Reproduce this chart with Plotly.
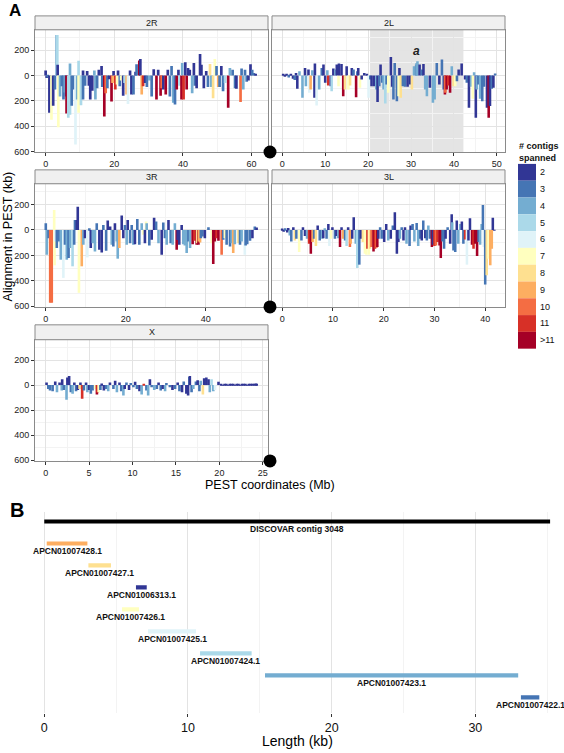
import plotly.graph_objects as go

W, H = 564, 753
OFF = 0
FW, FH = W - OFF, H - OFF
FONT = "Liberation Sans, Arial, Helvetica, sans-serif"
PALETTE = ["#313695", "#4575B4", "#74ADD1", "#ABD9E9", "#E0F3F8", "#FFFFBF",
           "#FEE090", "#FDAE61", "#F46D43", "#D73027", "#A50026"]
CAT_LABELS = ["2", "3", "4", "5", "6", "7", "8", "9", "10", "11", ">11"]

# ---------------- Panel A data: position (Mb), alignment (kb), category index ----------------
R2_POS = [0.0, 0.3, 0.6, 1.1, 1.7, 2.2, 2.7, 3.2, 3.4, 3.5,
          3.7, 4.2, 4.7, 5.2, 5.6, 6.0, 6.1, 6.6, 7.1, 7.1,
          7.6, 8.3, 8.7, 9.2, 9.6, 9.6, 10.3, 10.9, 10.9, 11.5,
          12.1, 12.6, 13.0, 13.6, 14.2, 14.5, 15.0, 15.5, 16.3, 16.5,
          17.1, 17.5, 18.0, 18.5, 19.2, 19.5, 19.8, 20.3, 20.8, 21.1,
          21.6, 22.0, 22.6, 23.0, 23.6, 24.0, 24.6, 25.0, 25.6, 26.2,
          26.5, 27.3, 27.6, 28.0, 28.4, 29.0, 29.5, 30.2, 30.9, 31.5,
          32.3, 32.8, 33.5, 33.8, 34.3, 35.0, 35.6, 36.2, 36.7, 37.2,
          37.7, 38.2, 38.7, 39.0, 39.6, 39.8, 40.2, 40.7, 41.1, 41.5,
          42.0, 42.7, 43.2, 43.5, 44.0, 45.0, 45.4, 46.1, 46.8, 47.3,
          47.9, 48.3, 48.8, 49.3, 49.8, 50.3, 50.7, 51.2, 51.7, 52.3,
          53.2, 53.7, 54.5, 55.2, 55.6, 56.8, 57.1, 57.6, 58.1, 58.6,
          59.1, 59.7, 60.2, 60.7, 61.2]
R2_KB = [40, -20, -15, -295, -350, -240, -110, 320, 320, 85,
         -410, -165, -85, -190, -135, -165, -300, -335, 95, -310,
         -240, -110, -545, -190, 118, -295, -235, -190, 40, -80,
         35, -80, -190, -120, 40, -190, -100, 45, 75, -90,
         -325, -140, -100, -30, -205, -60, 35, -110, -70, 40,
         -85, -40, -160, -60, -150, -225, 40, -150, -150, 30,
         90, 120, 130, -150, -85, -60, -90, -40, -165, 50,
         -190, 45, -160, -100, -110, -150, 45, -165, 75, -215,
         -230, -110, 45, -80, -190, 100, -190, 105, -110, 60,
         45, -140, 100, -80, -100, 170, 85, -100, 35, -90,
         92, -90, -180, 130, 75, -90, -90, 75, -125, -60,
         -255, 60, 45, -100, -105, -210, 55, -110, 45, -50,
         -40, 90, 45, 20, 10]
R2_CAT = [0, 0, 1, 0, 5, 0, 1, 2, 3, 0,
          5, 2, 1, 1, 2, 0, 10, 3, 2, 3,
          1, 1, 4, 2, 3, 5, 3, 1, 0, 1,
          0, 0, 0, 0, 2, 2, 1, 0, 0, 1,
          10, 8, 1, 0, 10, 7, 0, 9, 5, 0,
          1, 5, 0, 3, 7, 4, 0, 0, 1, 0,
          1, 10, 0, 7, 9, 0, 1, 2, 1, 0,
          10, 0, 10, 8, 0, 10, 0, 1, 1, 2,
          1, 10, 0, 3, 10, 2, 9, 0, 10, 0,
          0, 2, 0, 1, 0, 0, 0, 0, 0, 1,
          6, 2, 6, 5, 1, 7, 1, 0, 1, 3,
          10, 2, 1, 1, 0, 8, 1, 2, 1, 1,
          0, 0, 1, 1, 0]

L2_POS = [0.2, 0.6, 1.0, 1.5, 2.0, 2.5, 2.9, 3.2, 3.5, 4.0,
          4.7, 5.3, 5.5, 6.1, 6.3, 6.6, 7.0, 7.5, 7.6, 8.0,
          8.6, 9.2, 9.6, 10.0, 10.5, 10.7, 11.3, 11.5, 11.9, 12.4,
          12.7, 13.1, 13.2, 13.8, 14.2, 14.6, 15.0, 15.4, 15.8, 16.2,
          16.6, 17.2, 17.5, 17.7, 18.1, 18.5, 19.1, 19.7, 20.1, 20.5,
          20.8, 21.4, 21.9, 22.2, 22.6, 22.9, 23.3, 23.6, 24.0, 24.3,
          24.7, 25.3, 25.6, 25.9, 26.2, 26.7, 27.1, 27.3, 27.6, 28.1,
          28.6, 29.2, 29.8, 30.2, 30.7, 31.2, 31.3, 31.5, 32.0, 32.5,
          32.9, 33.3, 33.7, 34.4, 35.1, 35.5, 36.0, 36.6, 37.2, 37.6,
          37.9, 38.0, 38.3, 38.7, 39.1, 39.5, 39.9, 40.3, 40.7, 41.1,
          41.8, 42.6, 43.0, 43.5, 44.0, 44.4, 44.7, 45.1, 45.3, 45.7,
          46.1, 46.6, 47.0, 47.7, 48.1, 48.4, 48.8, 49.2, 49.6]
L2_KB = [12, -10, 15, -15, 10, -25, -35, 20, -105, 34,
         -176, 60, -84, 47, -137, -110, 42, -176, 95, -237,
         -110, 60, 87, -58, 42, -79, -84, -124, 55, 47,
         87, -84, 95, 92, -163, -110, 74, -110, -79, 60,
         47, -171, 34, 60, -97, -32, 21, 15, -176, -32,
         -84, -84, -110, -210, -84, 87, -58, -110, -221, -71,
         -137, 147, -89, -189, 100, -203, -163, 60, -176, -84,
         -89, -89, -71, -110, 74, 87, 100, 113, 87, 47,
         92, -110, -163, -97, -215, -189, 100, -71, 126, -110,
         -150, -137, -110, -79, -137, 74, -84, -84, -45, 47,
         95, -32, -58, -255, -89, -184, 26, -334, -110, -71,
         -184, -203, -89, -255, -334, -242, -105, -97, 16]
L2_CAT = [0, 0, 0, 1, 0, 0, 1, 0, 0, 2,
          2, 0, 2, 0, 4, 7, 2, 0, 0, 4,
          2, 1, 0, 0, 2, 9, 0, 3, 0, 2,
          0, 5, 0, 0, 10, 6, 0, 5, 6, 0,
          1, 10, 1, 0, 5, 0, 0, 0, 4, 1,
          0, 0, 2, 0, 1, 0, 1, 2, 3, 1,
          5, 0, 0, 1, 1, 1, 5, 0, 6, 1,
          1, 0, 0, 6, 2, 1, 2, 2, 0, 1,
          0, 2, 2, 0, 2, 2, 1, 0, 1, 1,
          10, 8, 10, 9, 10, 2, 6, 5, 1, 0,
          0, 0, 1, 0, 2, 5, 2, 0, 2, 1,
          2, 1, 1, 0, 10, 0, 1, 0, 1]

R3_POS = [0.0, 0.25, 0.7, 1.1, 1.5, 2.1, 2.2, 2.35, 2.75, 3.3,
          3.75, 4.4, 4.8, 5.25, 5.7, 6.1, 6.7, 7.1, 7.3, 7.75,
          8.0, 8.3, 9.0, 9.4, 9.8, 10.4, 10.9, 11.25, 11.75, 12.3,
          12.75, 13.4, 14.0, 14.4, 15.1, 15.5, 16.1, 16.5, 16.9, 17.3,
          17.75, 18.0, 18.4, 19.0, 19.4, 19.8, 20.25, 20.5, 21.1, 21.5,
          21.9, 22.3, 22.9, 23.4, 24.0, 24.4, 24.8, 25.1, 25.25, 25.9,
          26.5, 27.1, 27.6, 28.2, 29.0, 29.4, 29.8, 30.25, 30.7, 31.25,
          31.75, 32.3, 32.75, 33.0, 33.4, 34.0, 34.4, 34.8, 35.25, 35.7,
          36.1, 36.75, 37.2, 37.75, 37.9, 38.2, 38.3, 38.6, 38.8, 39.2,
          39.8, 40.7, 41.5, 41.9, 42.3, 42.75, 43.2, 44.0, 44.4, 44.8,
          45.25, 46.1, 46.5, 46.9, 47.3, 48.2, 48.6, 49.0, 49.8, 50.0,
          50.4, 51.1, 51.7, 52.3, 52.75]
R3_KB = [52, -195, -65, -572, -572, 156, -278, -91, -143, -91,
         -234, -377, -117, -234, -221, -143, -286, -117, 78, 78,
         182, -494, -286, -117, -65, -216, 13, -143, -104, -169,
         52, -156, -177, 39, -164, 73, 26, -117, -130, 52,
         -91, -226, -143, 112, -65, 39, -117, 78, -104, 39,
         -117, -112, 86, -117, 52, -39, -104, 65, 52, -122,
         -78, 96, 65, -104, -195, 57, -65, -117, 78, -104,
         -117, 52, -156, -80, -117, 39, -112, -122, -182, -91,
         -143, -112, -86, -117, -104, -117, -91, -99, -65, -52,
         -65, 21, -104, -268, -91, -65, -86, -195, -78, -65,
         -117, -130, -104, -182, -112, -104, -117, -91, -195, -122,
         -112, -86, -65, 26, 18]
R3_CAT = [1, 2, 1, 8, 8, 5, 5, 4, 1, 1,
          2, 4, 1, 2, 1, 2, 3, 1, 1, 0,
          0, 5, 7, 2, 0, 4, 1, 0, 2, 2,
          1, 0, 0, 1, 1, 0, 0, 2, 1, 0,
          2, 2, 7, 0, 0, 1, 2, 0, 1, 1,
          2, 0, 1, 1, 2, 5, 0, 5, 2, 1,
          0, 0, 1, 2, 0, 1, 1, 2, 0, 1,
          2, 2, 10, 0, 0, 0, 2, 2, 2, 1,
          2, 10, 9, 10, 6, 10, 7, 7, 1, 1,
          0, 1, 5, 10, 10, 9, 10, 8, 1, 5,
          1, 1, 2, 7, 2, 6, 1, 2, 4, 1,
          1, 1, 0, 1, 0]

L3_POS = [0.0, 0.3, 0.6, 1.0, 1.2, 1.5, 1.8, 2.2, 2.5, 2.8,
          3.35, 3.8, 4.1, 4.5, 4.9, 5.3, 5.65, 6.0, 6.3, 6.65,
          7.0, 7.4, 7.9, 8.1, 8.4, 8.75, 9.1, 9.3, 9.6, 9.9,
          10.4, 10.7, 11.05, 11.4, 11.7, 12.0, 12.4, 12.7, 13.0, 13.35,
          13.5, 13.8, 14.1, 14.5, 14.8, 15.2, 15.5, 15.9, 16.3, 16.6,
          16.8, 17.1, 17.3, 17.6, 18.0, 18.3, 18.6, 18.75, 18.95, 19.3,
          19.6, 20.1, 20.5, 20.9, 21.4, 21.8, 22.2, 22.6, 22.9, 23.2,
          23.55, 23.9, 24.2, 24.5, 25.1, 25.3, 25.7, 26.05, 26.5, 26.8,
          27.2, 27.5, 27.8, 28.2, 28.5, 28.8, 29.1, 29.5, 29.7, 30.0,
          30.3, 30.6, 31.0, 31.25, 31.6, 31.9, 32.2, 32.6, 33.1, 33.4,
          33.5, 33.75, 34.1, 34.4, 34.7, 35.1, 35.4, 35.7, 36.05, 36.4,
          36.7, 37.0, 37.4, 37.7, 38.0, 38.4, 38.7, 39.0, 39.3, 39.55,
          39.7, 40.0, 40.3, 40.65, 41.0, 41.3, 41.5, 41.8]
L3_KB = [10, -10, 12, -20, 15, -44, -91, 21, -83, -70,
         -174, -83, 21, -49, -70, -109, -187, -96, -70, -127,
         34, -83, -70, -65, 13, -70, 47, -127, -70, 21,
         -70, -49, -65, -135, 21, -70, -83, -127, 21, -135,
         -109, -70, 99, -109, -299, -273, -70, -96, -187, -195,
         -148, -195, -148, -135, -169, -148, -140, -135, -70, 21,
         -70, -96, 47, -83, -70, 34, 138, -187, -96, -70,
         21, -83, 21, -109, -127, 34, 47, -91, 55, -127,
         -70, -83, 73, -65, -83, 34, -70, -135, -117, -127,
         -122, -96, -122, -221, -91, -148, -70, 21, -109, 122,
         60, -161, -174, 73, -109, 47, 65, -109, -75, -273,
         -83, 91, -117, -148, -109, -205, -96, -117, 47, 195,
         -135, -429, -356, -226, -278, -148, 96, -5]
L3_CAT = [0, 0, 1, 0, 0, 2, 1, 0, 6, 1,
          5, 1, 0, 0, 2, 9, 10, 7, 1, 6,
          0, 1, 2, 0, 2, 1, 0, 4, 5, 0,
          1, 0, 2, 10, 0, 7, 1, 3, 0, 8,
          7, 0, 0, 2, 3, 1, 0, 6, 5, 5,
          9, 5, 6, 8, 10, 9, 8, 10, 0, 1,
          1, 0, 0, 2, 0, 1, 0, 0, 0, 2,
          1, 0, 0, 2, 1, 0, 1, 2, 1, 2,
          1, 0, 1, 0, 1, 2, 1, 10, 0, 9,
          8, 9, 10, 10, 1, 1, 0, 1, 0, 0,
          2, 1, 1, 0, 2, 2, 0, 1, 9, 4,
          0, 0, 10, 9, 10, 10, 1, 2, 2, 1,
          4, 1, 6, 5, 7, 7, 0, 0]

X_POS = [0.1, 0.3, 0.5, 0.8, 1.1, 1.3, 1.6, 1.85, 1.9, 2.1,
         2.4, 2.5, 2.7, 2.9, 3.1, 3.3, 3.5, 3.7, 3.9, 4.0,
         4.2, 4.4, 4.65, 4.8, 5.0, 5.2, 5.4, 5.7, 5.9, 5.95,
         6.1, 6.3, 6.45, 6.7, 6.95, 7.2, 7.4, 7.8, 8.0, 8.2,
         8.5, 8.7, 8.95, 9.1, 9.3, 9.6, 9.8, 10.1, 10.3, 10.5,
         10.8, 11.05, 11.3, 11.6, 11.8, 12.0, 12.2, 12.5, 12.8, 13.0,
         13.25, 13.5, 13.75, 13.9, 14.3, 14.6, 14.9, 15.2, 15.4, 15.7,
         15.9, 16.2, 16.4, 16.55, 16.6, 16.8, 17.0, 17.3, 17.5, 17.7,
         17.85, 18.1, 18.25, 18.5, 18.75, 18.9, 19.1, 19.3, 19.5, 19.9,
         20.2, 20.4, 20.6, 20.8, 21.0, 21.2, 21.4, 21.6, 21.8, 22.0,
         22.2, 22.4, 22.6, 22.8, 23.0, 23.2, 23.4, 23.6, 23.8, 24.0,
         24.2, 24.3]
X_KB = [21, -31, -44, -49, 29, -57, 21, -44, 47, -39,
        -117, 60, 73, -57, -70, 21, -49, -39, -31, 21,
        -109, -44, 21, -57, -39, -70, -44, -31, -75, -60,
        -57, -39, 13, -44, -31, -49, 21, -31, 34, -57,
        21, -49, -83, -31, 21, -39, 16, -18, 26, -31,
        -49, -75, 8, -44, -83, 47, -18, -39, -31, 21,
        -44, -31, -49, 16, -18, -39, -31, 21, -49, -57,
        29, -70, -83, 65, 73, -57, -31, 29, 39, -49,
        34, -75, 55, 60, 47, -57, 47, -49, -39, 26,
        8, -4, 6, 5, -5, 7, 4, 6, -4, 5,
        7, -5, 6, 4, 8, -4, 6, 5, 9, 10,
        12, 8]
X_CAT = [0, 1, 1, 1, 0, 2, 0, 2, 0, 1,
         2, 0, 0, 1, 2, 0, 1, 0, 6, 0,
         9, 1, 0, 2, 0, 1, 1, 5, 10, 9,
         5, 1, 0, 0, 1, 2, 0, 1, 0, 2,
         0, 1, 2, 0, 1, 0, 1, 1, 0, 1,
         0, 2, 9, 1, 2, 0, 1, 2, 1, 0,
         1, 0, 2, 1, 1, 0, 1, 0, 1, 0,
         1, 0, 0, 1, 0, 1, 2, 1, 0, 1,
         2, 6, 0, 0, 0, 2, 3, 2, 4, 0,
         0, 0, 0, 0, 0, 0, 0, 0, 0, 0,
         0, 0, 0, 0, 0, 0, 0, 0, 0, 0,
         0, 0]

Y_TICKS = [200, 0, -200, -400, -600]
Y_TICKTEXT = ["200", "0", "200", "400", "600"]
Y_MINOR = [300, 100, -100, -300, -500]

# ---------------- Panel B data ----------------
B_NAMES = ["DISCOVAR contig 3048", "APCN01007428.1", "APCN01007427.1", "APCN01006313.1",
           "APCN01007426.1", "APCN01007425.1", "APCN01007424.1", "APCN01007423.1",
           "APCN01007422.1"]
B_START = [0.0, 0.17, 3.07, 6.38, 5.41, 7.22, 10.84, 15.36, 33.17]
B_END = [35.2, 3.0, 4.64, 7.13, 6.59, 10.56, 14.43, 32.98, 34.45]
B_CAT = [-1, 7, 6, 0, 5, 4, 3, 2, 1]   # -1 = the DISCOVAR contig itself (black)
B_TICKS = [0, 10, 20, 30]
B_MINOR = [5, 15, 25, 35]


def fx(p):
    return (p - OFF) / FW


def fy(p):
    return 1 - (p - OFF) / FH


panels = [
    dict(name="2R", pos=R2_POS, kb=R2_KB, cat=R2_CAT, x=(35, 268), y=(30, 153), strip=16,
         xr=(-3.1, 64.8), ticks=[0, 20, 40, 60], minor=[10, 30, 50], left=True, bw=0.78),
    dict(name="2L", pos=L2_POS, kb=L2_KB, cat=L2_CAT, x=(272, 505), y=(30, 153), strip=16,
         xr=(-2.4, 51.9), ticks=[0, 10, 20, 30, 40, 50], minor=[5, 15, 25, 35, 45], left=False, bw=0.6),
    dict(name="3R", pos=R3_POS, kb=R3_KB, cat=R3_CAT, x=(35, 268), y=(185, 309), strip=171,
         xr=(-2.7, 55.6), ticks=[0, 20, 40], minor=[10, 30, 50], left=True, bw=0.65),
    dict(name="3L", pos=L3_POS, kb=L3_KB, cat=L3_CAT, x=(272, 505), y=(185, 309), strip=171,
         xr=(-2.0, 43.9), ticks=[0, 10, 20, 30, 40], minor=[5, 15, 25, 35], left=False, bw=0.5),
    dict(name="X", pos=X_POS, kb=X_KB, cat=X_CAT, x=(35, 268), y=(342, 464), strip=327,
         xr=(-1.23, 25.6), ticks=[0, 5, 10, 15, 20, 25], minor=[2.5, 7.5, 12.5, 17.5, 22.5],
         left=True, bw=0.3),
]

fig = go.Figure()
shapes = []
annotations = []
GRID = "#E3E3E3"
MINOR_GRID = "#F3F3F3"
BORDER = "#8A8A8A"
TICKFONT = dict(family=FONT, size=9, color="#222")

for i, p in enumerate(panels, start=1):
    ax = "" if i == 1 else str(i)
    fig.add_trace(go.Bar(
        x=p["pos"], y=p["kb"], width=p["bw"],
        marker=dict(color=[PALETTE[c] for c in p["cat"]], line=dict(width=0)),
        xaxis="x" + ax, yaxis="y" + ax, showlegend=False, hoverinfo="skip"))
    if p["left"]:
        # black corner dot at the panel's lower-right corner, drawn on top
        shapes.append(dict(type="circle", xref="paper", yref="paper",
                           xsizemode="pixel", ysizemode="pixel",
                           xanchor=fx(p["x"][1] + 2), yanchor=fy(p["y"][1]),
                           x0=-6.5, x1=6.5, y0=-6.5, y1=6.5,
                           fillcolor="black", line=dict(width=0), layer="above"))
    fig.update_layout(**{
        "xaxis" + ax: dict(
            domain=[fx(p["x"][0]), fx(p["x"][1])], range=list(p["xr"]),
            anchor="y" + ax, tickvals=p["ticks"], ticks="outside", ticklen=3,
            tickcolor="#333", tickfont=TICKFONT, showgrid=True, gridcolor=GRID,
            gridwidth=1, zeroline=False, showline=True, linecolor=BORDER,
            linewidth=1, mirror=True,
            minor=dict(tickvals=p["minor"], showgrid=True, gridcolor=MINOR_GRID, ticks="")),
        "yaxis" + ax: dict(
            domain=[fy(p["y"][1]), fy(p["y"][0])], range=[-605, 362],
            anchor="x" + ax, tickvals=Y_TICKS, ticktext=Y_TICKTEXT,
            showticklabels=p["left"], ticks="outside" if p["left"] else "",
            ticklen=3, tickcolor="#333", tickfont=TICKFONT, showgrid=True,
            gridcolor=GRID, zeroline=False, showline=True, linecolor=BORDER,
            linewidth=1, mirror=True,
            minor=dict(tickvals=Y_MINOR, showgrid=True, gridcolor=MINOR_GRID, ticks="")),
    })
    # strip
    shapes.append(dict(type="rect", xref="paper", yref="paper",
                       x0=fx(p["x"][0]), x1=fx(p["x"][1]),
                       y0=fy(p["y"][0]), y1=fy(p["strip"]),
                       fillcolor="#F0F0F0", line=dict(color=BORDER, width=1)))
    annotations.append(dict(xref="paper", yref="paper",
                            x=fx((p["x"][0] + p["x"][1]) / 2),
                            y=fy((p["y"][0] + p["strip"]) / 2),
                            text=p["name"], showarrow=False,
                            font=dict(family=FONT, size=9, color="#1a1a1a"),
                            xanchor="center", yanchor="middle"))

# shaded region "a" in 2L
shapes.append(dict(type="rect", xref="x2", yref="y2 domain", x0=20.45, x1=42.2,
                   y0=0, y1=1, fillcolor="rgba(185,185,185,0.38)", line=dict(width=0),
                   layer="below"))
annotations.append(dict(xref="x2", yref="y2", x=31.3, y=196, text="<b><i>a</i></b>",
                        showarrow=False, font=dict(family=FONT, size=12, color="#222")))

# ---------------- Panel B ----------------
b_rows = [-i for i in range(len(B_NAMES))]
b_colors = ["black" if c < 0 else PALETTE[c] for c in B_CAT]
fig.add_trace(go.Bar(
    y=b_rows, x=[e - s for s, e in zip(B_START, B_END)], base=B_START,
    orientation="h", width=0.19, marker=dict(color=b_colors, line=dict(width=0)),
    xaxis="x6", yaxis="y6", showlegend=False, hoverinfo="skip"))
for name, s, e, r in zip(B_NAMES, B_START, B_END, b_rows):
    annotations.append(dict(xref="x6", yref="y6", x=(s + e) / 2, y=r, yshift=-8,
                            text="<b>" + name + "</b>", showarrow=False,
                            font=dict(family=FONT, size=8.5, color="#111"),
                            xanchor="center", yanchor="middle"))
fig.update_layout(
    xaxis6=dict(domain=[fx(20), fx(560)], range=[-1.69, 35.89], anchor="y6",
                tickvals=B_TICKS, ticks="outside", ticklen=3, tickcolor="#333",
                tickfont=dict(family=FONT, size=12.5, color="#111"),
                showgrid=True, gridcolor=GRID, zeroline=False, showline=False,
                minor=dict(tickvals=B_MINOR, showgrid=True, gridcolor=MINOR_GRID, ticks="")),
    yaxis6=dict(domain=[fy(718), fy(515)], range=[-8.72, 0.45], anchor="x6",
                showgrid=False, zeroline=False, showticklabels=False, ticks="",
                showline=False),
)

# ---------------- Legend (drawn manually) ----------------
LEG_X0, LEG_X1, LEG_TOP, LEG_BOT = 518, 536, 165, 351
step = (LEG_BOT - LEG_TOP) / len(CAT_LABELS)
for k, lab in enumerate(CAT_LABELS):
    t = LEG_TOP + k * step
    shapes.append(dict(type="rect", xref="paper", yref="paper",
                       x0=fx(LEG_X0), x1=fx(LEG_X1), y0=fy(t + step), y1=fy(t),
                       fillcolor=PALETTE[k], line=dict(width=0)))
    annotations.append(dict(xref="paper", yref="paper", x=fx(LEG_X1 + 2),
                            y=fy(t + step / 2), text=lab, showarrow=False,
                            font=dict(family=FONT, size=9, color="#111"),
                            xanchor="left", yanchor="middle"))
annotations.append(dict(xref="paper", yref="paper", x=fx(517), y=fy(153),
                        text="<b># contigs<br>spanned</b>", showarrow=False, align="left",
                        font=dict(family=FONT, size=9, color="#111"),
                        xanchor="left", yanchor="middle"))

# ---------------- titles ----------------
annotations += [
    dict(xref="paper", yref="paper", x=fx(7), y=fy(11), text="<b>A</b>", showarrow=False,
         font=dict(family=FONT, size=17, color="black"), xanchor="left", yanchor="middle"),
    dict(xref="paper", yref="paper", x=fx(8), y=fy(513), text="<b>B</b>", showarrow=False,
         font=dict(family=FONT, size=20, color="black"), xanchor="left", yanchor="middle"),
    dict(xref="paper", yref="paper", x=fx(8), y=fy(238), text="Alignment in PEST (kb)",
         showarrow=False, textangle=-90, font=dict(family=FONT, size=12.5, color="black"),
         xanchor="center", yanchor="middle"),
    dict(xref="paper", yref="paper", x=fx(270), y=fy(488), text="PEST coordinates (Mb)",
         showarrow=False, font=dict(family=FONT, size=12.5, color="black"),
         xanchor="center", yanchor="middle"),
    dict(xref="paper", yref="paper", x=fx(297), y=fy(746), text="Length (kb)",
         showarrow=False, font=dict(family=FONT, size=14, color="black"),
         xanchor="center", yanchor="middle"),
]

fig.update_layout(
    width=FW, height=FH, margin=dict(l=0, r=0, t=0, b=0),
    paper_bgcolor="white", plot_bgcolor="white", barmode="overlay",
    showlegend=False, shapes=shapes, annotations=annotations,
    font=dict(family=FONT),
)

fig.write_html("out.html", config={"displayModeBar": False},
               post_script="document.body.style.margin='0px';document.body.style.overflow='hidden';")
